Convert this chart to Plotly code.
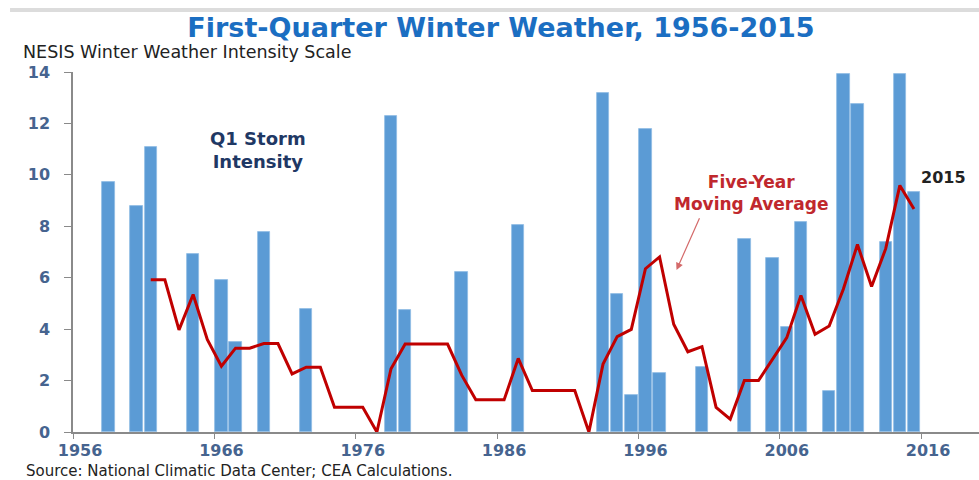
import plotly.graph_objects as go

# Q1 storm intensity (NESIS), years with a first-quarter event
storm_years = [1958, 1960, 1961, 1964, 1966, 1967, 1969, 1972, 1978, 1979,
               1983, 1987, 1993, 1994, 1995, 1996, 1997, 2000, 2003, 2005,
               2006, 2007, 2009, 2010, 2011, 2013, 2014, 2015]
storm_values = [9.74, 8.77, 11.1, 6.92, 5.92, 3.5, 7.78, 4.78, 12.3, 4.75,
                6.24, 8.04, 13.19, 5.37, 1.42, 11.77, 2.29, 2.51, 7.5, 6.78,
                4.08, 8.17, 1.58, 13.92, 12.75, 7.38, 13.92, 9.34]

# Five-year moving average, 1961-2015
ma_years = list(range(1961, 2016))
ma_values = [5.92, 5.92, 3.97, 5.35, 3.6, 2.56, 3.26, 3.26, 3.44, 3.44,
             2.26, 2.52, 2.52, 0.96, 0.96, 0.96, 0.0, 2.46, 3.42, 3.42,
             3.42, 3.42, 2.21, 1.25, 1.25, 1.25, 2.86, 1.61, 1.61, 1.61,
             1.61, 0.0, 2.64, 3.71, 3.99, 6.35, 6.81, 4.19, 3.12, 3.32,
             0.96, 0.5, 2.0, 2.0, 2.86, 3.67, 5.31, 3.8, 4.12, 5.55,
             7.29, 5.66, 7.13, 9.59, 8.67]

tick_years = [1956, 1966, 1976, 1986, 1996, 2006, 2016]
y_ticks = [0, 2, 4, 6, 8, 10, 12, 14]

AXIS_BLUE = "#46648f"
FONT = "DejaVu Sans"

fig = go.Figure()

fig.add_trace(go.Bar(
    x=storm_years, y=storm_values, width=0.88,
    marker=dict(color="#5b9bd5", line=dict(color="#8fbbe4", width=0.8)),
    showlegend=False, hoverinfo="x+y",
))

fig.add_trace(go.Scatter(
    x=ma_years, y=ma_values, mode="lines",
    line=dict(color="#c00000", width=3),
    showlegend=False,
))

fig.update_layout(
    width=979, height=480,
    margin=dict(l=73, r=0, t=72, b=48),
    paper_bgcolor="white", plot_bgcolor="white",
    font=dict(family=FONT),
    title=dict(
        text="<b>First-Quarter Winter Weather, 1956-2015</b>",
        x=501 / 979, xanchor="center",
        y=1 - 28 / 480, yanchor="middle",
        font=dict(family=FONT, size=27, color="#1b6ec2"),
    ),
    bargap=0,
)

fig.update_xaxes(
    range=[1955.5, 2019.6],
    tickvals=tick_years, ticktext=[str(t) for t in tick_years],
    ticks="outside", ticklen=0, tickcolor="#8a8a8a",
    ticklabelstandoff=3,
    tickfont=dict(family=FONT, size=16, color=AXIS_BLUE, weight="bold"),
    minor=dict(tick0=1955.5, dtick=10, ticks="outside", ticklen=5,
               tickcolor="#8a8a8a", tickwidth=1.3, showgrid=False),
    showline=True, linecolor="#8a8a8a", linewidth=1.5,
    showgrid=False, zeroline=False,
)

fig.update_yaxes(
    range=[0, 14],
    tickvals=y_ticks,
    ticks="outside", ticklen=7, tickcolor="#8a8a8a", tickwidth=1.3,
    ticklabelstandoff=11,
    tickfont=dict(family=FONT, size=16, color=AXIS_BLUE, weight="bold"),
    showline=True, linecolor="#8a8a8a", linewidth=1.5,
    showgrid=False, zeroline=False,
)

# Thin rule across the top of the page
fig.add_shape(type="line", xref="paper", yref="paper",
              x0=-0.0695, x1=1, y0=1.172, y1=1.172,
              line=dict(color="#dcdcdc", width=4))

fig.add_annotation(
    text="NESIS Winter Weather Intensity Scale",
    xref="paper", yref="paper", x=-0.0563, y=(432.3 - 52) / 360.3,
    xanchor="left", yanchor="middle", showarrow=False, borderpad=0,
    font=dict(family=FONT, size=17.5, color="#222222"),
)

fig.add_annotation(
    text="Source: National Climatic Data Center; CEA Calculations.",
    xref="paper", yref="paper", x=-0.053, y=-0.108,
    xanchor="left", yanchor="middle", showarrow=False, borderpad=0,
    font=dict(family=FONT, size=15, color="#222222"),
)

fig.add_annotation(
    text="<b>Q1 Storm<br>Intensity</b>",
    x=1968.6, y=10.97, xanchor="center", yanchor="middle",
    showarrow=False, align="center",
    font=dict(family=FONT, size=18, color="#1f3864"),
)

fig.add_annotation(
    text="<b>Five-Year<br>Moving Average</b>",
    x=2003.5, y=9.3, xanchor="center", yanchor="middle",
    showarrow=False, align="center",
    font=dict(family=FONT, size=17, color="#c0282d"),
)

fig.add_annotation(
    text="", x=1998.2, y=6.3, ax=1999.87, ay=8.37,
    axref="x", ayref="y", showarrow=True,
    arrowhead=2, arrowsize=1.2, arrowwidth=1.2, arrowcolor="#d46a6a",
)

fig.add_annotation(
    text="<b>2015</b>",
    x=2017.07, y=9.88, xanchor="center", yanchor="middle",
    showarrow=False,
    font=dict(family=FONT, size=16, color="#222222"),
)

fig.write_html("out.html")
